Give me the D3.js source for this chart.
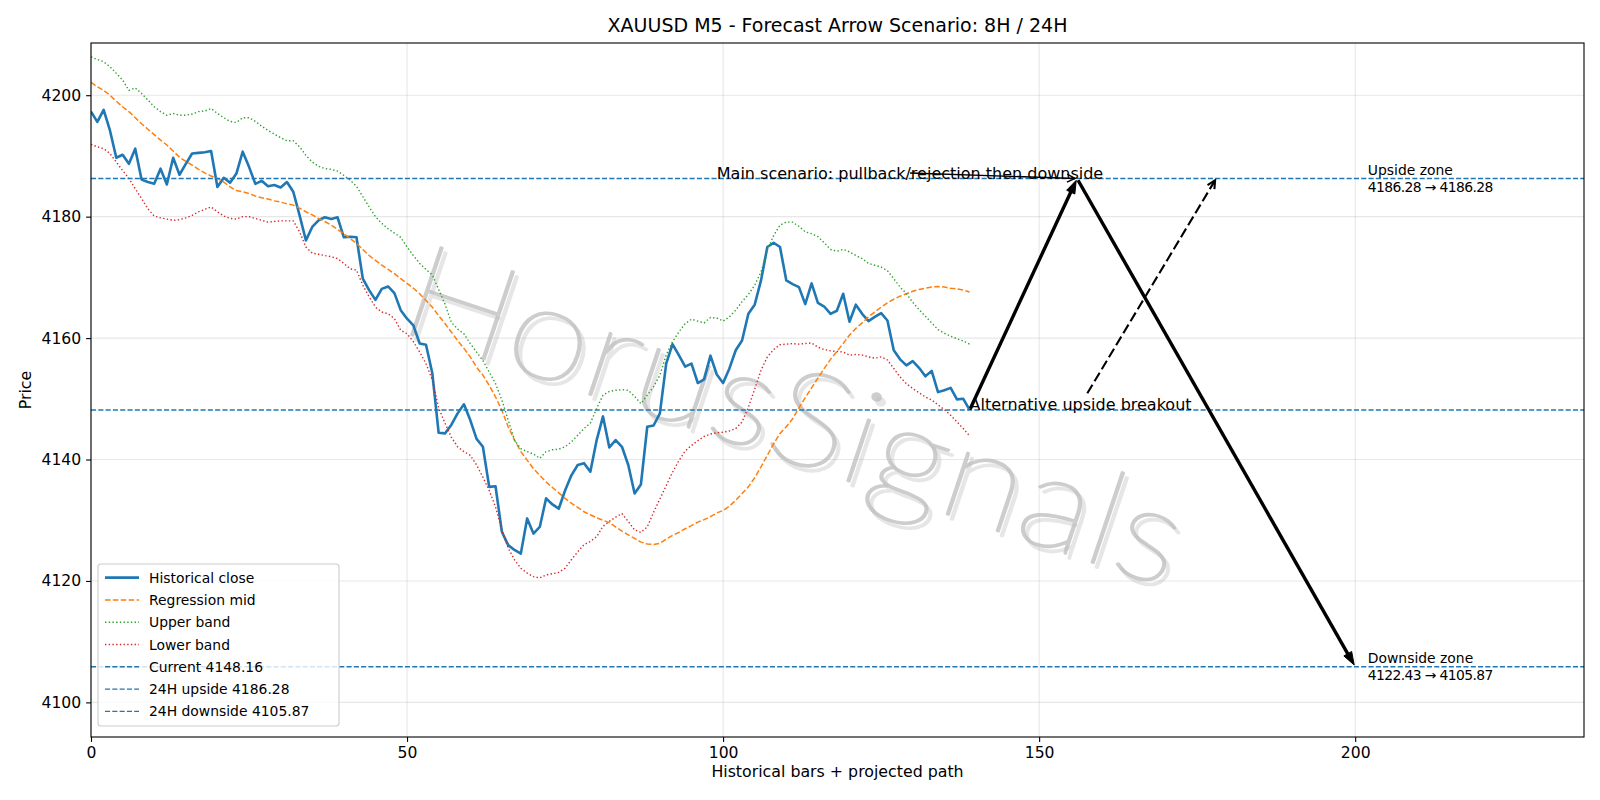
<!DOCTYPE html>
<html>
<head>
<meta charset="utf-8">
<script src="https://cdn.jsdelivr.net/npm/d3@7"></script>
<style>
  body { margin: 0; background: #fff; }
  text { font-family: "DejaVu Sans", sans-serif; }
</style>
</head>
<body>
<div id="chart"></div>
<script>
// historical M5 closes, bar index 0..139
const closeVals = [
  4197.3, 4195.6, 4197.6, 4194.2, 4189.7, 4190.2, 4188.7, 4191.2, 4186.1, 4185.7,
  4185.4, 4187.9, 4185.3, 4189.7, 4186.9, 4188.7, 4190.4, 4190.5, 4190.6, 4190.8,
  4184.9, 4186.4, 4185.6, 4187.1, 4190.7, 4188.2, 4185.4, 4185.9, 4185.0, 4185.2,
  4184.8, 4185.7, 4184.1, 4180.2, 4176.1, 4178.3, 4179.4, 4179.9, 4179.6, 4179.9,
  4176.6, 4176.7, 4176.6, 4169.8, 4167.9, 4166.3, 4168.1, 4168.5, 4167.4, 4164.6,
  4163.2, 4162.1, 4159.1, 4158.9, 4154.2, 4144.4, 4144.3, 4145.7, 4147.6, 4149.1,
  4146.5, 4143.4, 4142.1, 4135.5, 4135.6, 4128.1, 4125.9, 4125.1, 4124.5, 4130.3,
  4127.8, 4128.9, 4133.6, 4132.6, 4131.9, 4134.9, 4137.4, 4139.1, 4139.4, 4138.0,
  4143.2, 4147.1, 4142.0, 4143.2, 4142.1, 4139.1, 4134.4, 4135.9, 4145.4, 4145.6,
  4147.6, 4155.8, 4159.0, 4157.2, 4155.3, 4155.8, 4152.6, 4153.2, 4157.1, 4154.0,
  4152.6, 4155.0, 4158.0, 4159.6, 4164.0, 4165.5, 4169.5, 4175.0, 4175.7, 4175.0,
  4169.5, 4168.9, 4168.4, 4165.6, 4169.0, 4165.8, 4165.2, 4164.0, 4164.5, 4167.3,
  4162.7, 4165.5, 4164.0, 4162.8, 4163.5, 4164.1, 4162.9, 4158.0, 4156.5, 4155.5,
  4156.2, 4155.1, 4153.7, 4154.6, 4151.1, 4151.4, 4151.8, 4149.9, 4150.0, 4148.16
];
const midVals = [
  4202.1, 4201.4, 4200.8, 4200.0, 4199.0, 4198.1, 4197.3, 4196.3, 4195.3, 4194.4,
  4193.5, 4192.6, 4191.8, 4190.8, 4189.8, 4189.1, 4188.5, 4187.8, 4187.2, 4186.7,
  4186.3, 4185.7, 4184.9, 4184.3, 4184.1, 4183.8, 4183.4, 4183.1, 4182.9, 4182.6,
  4182.4, 4182.1, 4181.9, 4181.4, 4180.8, 4180.3, 4179.7, 4179.2, 4178.6, 4177.9,
  4177.2, 4176.4, 4175.6, 4174.6, 4173.6, 4172.8, 4172.0, 4171.3, 4170.6, 4169.8,
  4169.0, 4168.2, 4167.3, 4166.2, 4165.1, 4163.7, 4162.4, 4161.0, 4159.6, 4158.3,
  4156.9, 4155.2, 4153.9, 4152.2, 4150.3, 4148.1, 4145.4, 4143.2, 4141.3, 4139.9,
  4138.5, 4137.4, 4136.3, 4135.4, 4134.5, 4133.6, 4132.8, 4132.1, 4131.4, 4130.9,
  4130.4, 4130.0, 4129.6, 4128.9, 4128.2, 4127.6, 4127.0, 4126.4, 4126.1, 4126.0,
  4126.2, 4126.9, 4127.5, 4128.0, 4128.6, 4129.1, 4129.7, 4130.1, 4130.6, 4131.2,
  4131.6, 4132.3, 4133.3, 4134.4, 4135.5, 4137.0, 4138.8, 4140.7, 4142.6, 4144.3,
  4145.4, 4146.7, 4148.5, 4150.2, 4151.8, 4153.4, 4155.0, 4156.5, 4157.8, 4159.1,
  4160.5, 4161.6, 4162.5, 4163.5, 4164.3, 4165.1, 4165.8, 4166.4, 4166.9, 4167.3,
  4167.7, 4168.0, 4168.2, 4168.4, 4168.5, 4168.4, 4168.2, 4168.1, 4167.9, 4167.6
];
const upperVals = [
  4206.3, 4205.9, 4205.5, 4204.7, 4203.6, 4202.5, 4200.8, 4201.2, 4200.3, 4199.2,
  4198.1, 4197.3, 4196.7, 4197.0, 4196.7, 4196.7, 4196.9, 4197.3, 4197.4, 4197.8,
  4197.0, 4196.3, 4195.7, 4195.5, 4196.3, 4196.3, 4195.7, 4194.9, 4194.2, 4193.6,
  4193.0, 4192.5, 4192.5, 4191.5, 4190.1, 4189.0, 4188.3, 4187.9, 4187.8, 4187.5,
  4186.8, 4186.0, 4185.0, 4183.3, 4181.6, 4180.0, 4178.9, 4178.0, 4177.3, 4176.6,
  4175.0, 4173.6, 4172.3, 4171.3, 4170.4, 4168.0, 4165.6, 4162.6, 4161.5, 4160.7,
  4159.1, 4157.7, 4156.3, 4154.4, 4152.5, 4149.8, 4146.5, 4143.2, 4141.8, 4141.3,
  4140.9, 4140.2, 4141.3, 4141.6, 4141.7, 4142.1, 4142.9, 4144.0, 4145.1, 4146.0,
  4148.4, 4150.6, 4151.2, 4151.4, 4151.5, 4151.4, 4150.4, 4149.2, 4150.6, 4152.0,
  4153.9, 4157.2, 4159.4, 4161.0, 4162.4, 4163.1, 4162.8, 4162.5, 4163.4, 4163.3,
  4162.8, 4163.5, 4164.6, 4166.0, 4167.2, 4168.7, 4170.9, 4174.5, 4176.9, 4178.6,
  4179.1, 4179.1, 4178.4, 4177.5, 4177.2, 4176.7, 4175.7, 4174.6, 4174.3, 4174.6,
  4174.2, 4173.6, 4173.1, 4172.3, 4172.0, 4171.7, 4171.1, 4169.8, 4168.4, 4167.3,
  4165.9, 4164.7, 4163.6, 4162.5, 4161.4, 4160.8, 4160.3, 4159.9, 4159.5, 4159.0
];
const lowerVals = [
  4191.9, 4191.5, 4191.2, 4190.4, 4189.0, 4187.6, 4186.3, 4184.6, 4183.0, 4181.3,
  4180.1, 4179.8, 4179.6, 4179.4, 4179.5, 4179.8, 4180.2, 4180.8, 4181.2, 4181.6,
  4180.8, 4180.1, 4179.7, 4179.6, 4180.0, 4180.0, 4179.7, 4179.4, 4179.1, 4179.2,
  4179.3, 4179.3, 4179.3, 4177.5, 4175.0, 4174.0, 4173.8, 4173.6, 4173.4, 4173.1,
  4172.3, 4171.4, 4171.2, 4168.7, 4166.8, 4165.1, 4164.3, 4164.0, 4163.2, 4161.3,
  4160.7, 4159.4, 4157.7, 4155.8, 4153.1, 4148.5, 4146.0, 4143.7, 4142.1, 4141.3,
  4140.7, 4139.1, 4137.1, 4134.9, 4132.2, 4128.4, 4125.4, 4123.5, 4122.1, 4121.3,
  4120.7, 4120.5, 4121.0, 4121.2, 4121.4, 4122.1, 4123.5, 4124.8, 4126.0, 4126.5,
  4127.3, 4129.0, 4129.8, 4130.5, 4131.1, 4129.8, 4128.4, 4128.0, 4128.9, 4131.3,
  4133.5, 4135.7, 4137.9, 4139.8, 4141.4, 4142.3, 4143.1, 4143.8, 4144.2, 4144.4,
  4144.5, 4144.7, 4145.1, 4146.2, 4148.6, 4151.6, 4154.7, 4156.9, 4158.1, 4158.9,
  4159.0, 4159.1, 4159.0, 4159.1, 4159.2, 4158.5, 4158.1, 4157.9, 4157.8, 4157.7,
  4157.2, 4157.3, 4157.2, 4156.9, 4156.7, 4156.9, 4156.4, 4155.0, 4153.6, 4152.5,
  4151.7, 4151.0, 4150.3, 4149.8, 4149.0, 4148.2, 4147.3, 4146.2, 4145.1, 4143.9
];

const currentPrice = 4148.16;
const upsidePrice = 4186.28;
const downsidePrice = 4105.87;
const downsideStart = 4122.43;

// scenario path: current -> pullback top -> downside target
const mainPath = [[139, 4148.16], [156, 4186.28], [200, 4105.87]];
const altTarget = [178, 4186.28];
const mainTextPos = [99, 4186.28];
const altTextPos = [139, 4148.16];
const zoneLabelX = 202;

const xTicks = [0, 50, 100, 150, 200];
const yTicks = [4100, 4120, 4140, 4160, 4180, 4200];

const C0 = '#1f77b4', C1 = '#ff7f0e', C2 = '#2ca02c', C3 = '#d62728';

const W = 1600, H = 800;
const margin = { left: 91, right: 1584, top: 43, bottom: 737 };

const svg = d3.select('#chart').append('svg')
  .attr('width', W).attr('height', H);

const x = d3.scaleLinear().domain([0, 236.2]).range([margin.left, margin.right]);
const y = d3.scaleLinear().domain([4094.3, 4208.6]).range([margin.bottom, margin.top]);

svg.append('clipPath').attr('id', 'plot-clip')
  .append('rect')
  .attr('x', margin.left).attr('y', margin.top)
  .attr('width', margin.right - margin.left)
  .attr('height', margin.bottom - margin.top);

// grid
const grid = svg.append('g');
grid.selectAll('.gx').data(xTicks).enter().append('line')
  .attr('x1', d => x(d)).attr('x2', d => x(d))
  .attr('y1', margin.top).attr('y2', margin.bottom)
  .attr('stroke', '#b0b0b0').attr('stroke-opacity', 0.3).attr('stroke-width', 1.1);
grid.selectAll('.gy').data(yTicks).enter().append('line')
  .attr('x1', margin.left).attr('x2', margin.right)
  .attr('y1', d => y(d)).attr('y2', d => y(d))
  .attr('stroke', '#b0b0b0').attr('stroke-opacity', 0.3).attr('stroke-width', 1.1);

// watermark (thin font thickened a little with a stroke, plus a soft shadow)
const wmX = 797, wmY = 410;
const wmFont = 'Lato, "DejaVu Sans", sans-serif';
function watermark(dx, dy, col, op) {
  svg.append('g').attr('opacity', op)
    .append('text')
    .attr('transform', `translate(${wmX + dx},${wmY + dy}) rotate(18.5) scale(1.13,1)`)
    .attr('text-anchor', 'middle').attr('dominant-baseline', 'central')
    .style('font-family', wmFont)
    .style('font-size', '132px').style('font-weight', 100)
    .attr('fill', col).attr('stroke', col).attr('stroke-width', 2.2)
    .attr('stroke-linejoin', 'round')
    .text('HorusSignals');
}
watermark(4, 5, '#b8b8b8', 0.35);
watermark(0, 0, '#bdbdbd', 0.75);

const plot = svg.append('g').attr('clip-path', 'url(#plot-clip)');

const line = d3.line().x((d, i) => x(i)).y(d => y(d));

plot.append('path').datum(closeVals)
  .attr('fill', 'none').attr('stroke', C0).attr('stroke-width', 2.6)
  .attr('stroke-linejoin', 'round')
  .attr('d', line);
plot.append('path').datum(midVals)
  .attr('fill', 'none').attr('stroke', C1).attr('stroke-width', 1.5)
  .attr('stroke-dasharray', '5.5,2.4')
  .attr('d', line);
plot.append('path').datum(upperVals)
  .attr('fill', 'none').attr('stroke', C2).attr('stroke-width', 1.4)
  .attr('stroke-dasharray', '1.4,2.3')
  .attr('d', line);
plot.append('path').datum(lowerVals)
  .attr('fill', 'none').attr('stroke', C3).attr('stroke-width', 1.4)
  .attr('stroke-dasharray', '1.4,2.3')
  .attr('d', line);

// horizontal levels
[currentPrice, upsidePrice, downsidePrice].forEach(v => {
  plot.append('line')
    .attr('x1', margin.left).attr('x2', margin.right)
    .attr('y1', y(v)).attr('y2', y(v))
    .attr('stroke', C0).attr('stroke-width', 1.4)
    .attr('stroke-dasharray', '5.1,2.2');
});

// arrows
function drawArrow(p0, p1, o) {
  const dx = p1[0] - p0[0], dy = p1[1] - p0[1];
  const L = Math.hypot(dx, dy), ux = dx / L, uy = dy / L;
  const sA = o.shrinkA === undefined ? 2 : o.shrinkA;
  const a = [p0[0] + ux * sA, p0[1] + uy * sA];
  const b = [p1[0] - ux * 2, p1[1] - uy * 2];
  const nx = -uy, ny = ux;
  const base = [b[0] - ux * o.len, b[1] - uy * o.len];
  if (o.filled) {
    svg.append('line')
      .attr('x1', a[0]).attr('y1', a[1])
      .attr('x2', base[0] + ux).attr('y2', base[1] + uy)
      .attr('stroke', '#000').attr('stroke-width', o.lw);
    svg.append('path')
      .attr('d', `M${b[0]},${b[1]}L${base[0] + nx * o.hw},${base[1] + ny * o.hw}` +
                 `L${base[0] - nx * o.hw},${base[1] - ny * o.hw}Z`)
      .attr('fill', '#000').attr('stroke', '#000').attr('stroke-width', 1)
      .attr('stroke-linejoin', 'miter');
  } else {
    svg.append('line')
      .attr('x1', a[0]).attr('y1', a[1]).attr('x2', b[0]).attr('y2', b[1])
      .attr('stroke', '#000').attr('stroke-width', o.lw)
      .attr('stroke-dasharray', o.dash || null);
    svg.append('path')
      .attr('d', `M${base[0] + nx * o.hw},${base[1] + ny * o.hw}L${b[0]},${b[1]}` +
                 `L${base[0] - nx * o.hw},${base[1] - ny * o.hw}`)
      .attr('fill', 'none').attr('stroke', '#000').attr('stroke-width', o.lw)
      .attr('stroke-linejoin', 'miter');
  }
}

// start point of an annotation arrow: text bbox centre, clipped to the bbox edge
function textArrowStart(node, target) {
  const bb = node.getBBox();
  const c = [bb.x + bb.width / 2, bb.y + bb.height / 2];
  const dx = target[0] - c[0], dy = target[1] - c[1];
  const sx = dx !== 0 ? (bb.width / 2) / Math.abs(dx) : Infinity;
  const sy = dy !== 0 ? (bb.height / 2) / Math.abs(dy) : Infinity;
  const s = Math.min(sx, sy);
  if (s >= 1) return { p: c, shrink: 0 };
  return { p: [c[0] + dx * s, c[1] + dy * s], shrink: 2 };
}

for (let k = 0; k < mainPath.length - 1; k++) {
  drawArrow([x(mainPath[k][0]), y(mainPath[k][1])],
            [x(mainPath[k + 1][0]), y(mainPath[k + 1][1])],
            { filled: true, lw: 3.4, len: 13, hw: 4.5 });
}

const mainText = svg.append('text')
  .attr('x', x(mainTextPos[0])).attr('y', y(mainTextPos[1]))
  .style('font-size', '16px').attr('fill', '#000')
  .text('Main scenario: pullback/rejection then downside');
const peak = [x(mainPath[1][0]), y(mainPath[1][1])];
const ms = textArrowStart(mainText.node(), peak);
drawArrow(ms.p, peak, { filled: false, lw: 1.4, len: 8, hw: 4, shrinkA: ms.shrink });

const altText = svg.append('text')
  .attr('x', x(altTextPos[0])).attr('y', y(altTextPos[1]))
  .style('font-size', '16px').attr('fill', '#000')
  .text('Alternative upside breakout');
const altT = [x(altTarget[0]), y(altTarget[1])];
const as = textArrowStart(altText.node(), altT);
drawArrow(as.p, altT, { filled: false, lw: 2.1, len: 8, hw: 4, dash: '10,4', shrinkA: as.shrink });

// zone labels
function zoneLabel(v, l1, a, b) {
  const t = svg.append('text')
    .attr('x', x(zoneLabelX)).attr('y', y(v) - 3.5)
    .style('font-size', '13.9px').attr('fill', '#000');
  t.append('tspan').attr('x', x(zoneLabelX)).text(l1);
  t.append('tspan').attr('x', x(zoneLabelX)).attr('dy', 16.7)
    .attr('textLength', 125.5).attr('lengthAdjust', 'spacing')
    .text(`${a.toFixed(2)} \u2192 ${b.toFixed(2)}`);
}
zoneLabel(upsidePrice, 'Upside zone', upsidePrice, upsidePrice);
zoneLabel(downsidePrice, 'Downside zone', downsideStart, downsidePrice);

// axes
const xAxis = svg.append('g')
  .attr('transform', `translate(0,${margin.bottom})`)
  .call(d3.axisBottom(x).tickValues(xTicks).tickFormat(d3.format('d'))
    .tickSize(4.9).tickPadding(4.9));
const yAxis = svg.append('g')
  .attr('transform', `translate(${margin.left},0)`)
  .call(d3.axisLeft(y).tickValues(yTicks).tickFormat(d3.format('d'))
    .tickSize(4.9).tickPadding(4.9));
[xAxis, yAxis].forEach(g => {
  g.select('.domain').remove();
  g.selectAll('line').attr('stroke', '#000').attr('stroke-width', 1.1);
  g.selectAll('text').style('font-size', '15.6px').style('font-family', '"DejaVu Sans", sans-serif')
    .attr('fill', '#000');
});

svg.append('rect')
  .attr('x', margin.left).attr('y', margin.top)
  .attr('width', margin.right - margin.left)
  .attr('height', margin.bottom - margin.top)
  .attr('fill', 'none').attr('stroke', '#000').attr('stroke-width', 1.1);

// titles
svg.append('text')
  .attr('x', (margin.left + margin.right) / 2).attr('y', 32)
  .attr('text-anchor', 'middle').style('font-size', '19px')
  .text('XAUUSD M5 - Forecast Arrow Scenario: 8H / 24H');
svg.append('text')
  .attr('x', (margin.left + margin.right) / 2).attr('y', 777)
  .attr('text-anchor', 'middle').style('font-size', '15.8px')
  .text('Historical bars + projected path');
svg.append('text')
  .attr('transform', `translate(31,${(margin.top + margin.bottom) / 2}) rotate(-90)`)
  .attr('text-anchor', 'middle').style('font-size', '15.8px')
  .text('Price');

// legend
const legendItems = [
  { label: 'Historical close', color: C0, lw: 2.6, dash: null },
  { label: 'Regression mid', color: C1, lw: 1.5, dash: '5.5,2.4' },
  { label: 'Upper band', color: C2, lw: 1.4, dash: '1.4,2.3' },
  { label: 'Lower band', color: C3, lw: 1.4, dash: '1.4,2.3' },
  { label: `Current ${currentPrice.toFixed(2)}`, color: C0, lw: 1.4, dash: '5.1,2.2' },
  { label: `24H upside ${upsidePrice.toFixed(2)}`, color: C0, lw: 1.4, dash: '5.1,2.2' },
  { label: `24H downside ${downsidePrice.toFixed(2)}`, color: C0, lw: 1.4, dash: '5.1,2.2' }
];
const legend = svg.append('g');
legend.append('rect')
  .attr('x', 98).attr('y', 564).attr('width', 241).attr('height', 162)
  .attr('rx', 3).attr('fill', '#fff').attr('fill-opacity', 0.8)
  .attr('stroke', '#cccccc').attr('stroke-width', 1.1);
legendItems.forEach((it, i) => {
  const cy = 577.6 + i * 22.3;
  legend.append('line')
    .attr('x1', 105).attr('x2', 139).attr('y1', cy).attr('y2', cy)
    .attr('stroke', it.color).attr('stroke-width', it.lw)
    .attr('stroke-dasharray', it.dash);
  legend.append('text')
    .attr('x', 149).attr('y', cy + 5)
    .style('font-size', '13.9px').attr('fill', '#000')
    .text(it.label);
});
</script>
</body>
</html>
